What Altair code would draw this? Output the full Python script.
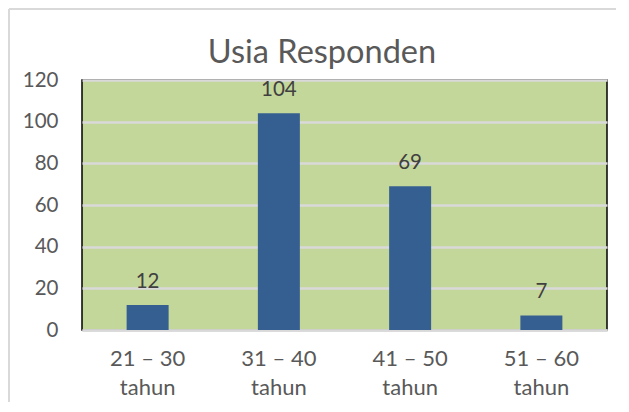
import altair as alt
import pandas as pd

categories = ["21 – 30\ntahun", "31 – 40\ntahun", "41 – 50\ntahun", "51 – 60\ntahun"]
values = [12, 104, 69, 7]
title_text = "Usia Responden"

df = pd.DataFrame({"cat": categories, "val": values})

FONT = "Lato"

base = alt.Chart(df).encode(
    x=alt.X("cat:N", sort=categories, title=None,
            scale=alt.Scale(paddingInner=0.68, paddingOuter=0.34),
            axis=alt.Axis(labelExpr="split(datum.label, '\\n')", labelAngle=0,
                          labelFontSize=22, labelColor="#595959", labelFont=FONT,
                          labelPadding=18, labelLineHeight=29, ticks=False,
                          domainColor="#d9d9d9", domainWidth=2.5, grid=False)),
    y=alt.Y("val:Q", title=None,
            scale=alt.Scale(domain=[0, 120], nice=False),
            axis=alt.Axis(values=[0, 20, 40, 60, 80, 100, 120], ticks=False, domain=False,
                          labelFontSize=20.5, labelColor="#595959", labelFont=FONT,
                          labelPadding=24, gridColor="#d9d9d9", gridWidth=2.5)),
)

bars = base.mark_bar(color="#365f91")
labels = base.mark_text(baseline="alphabetic", dy=-17, fontSize=20.5, color="#404040",
                        font=FONT).encode(text="val:Q")

title_df = pd.DataFrame({"t": [title_text]})
title = alt.Chart(title_df).mark_text(fontSize=32.5, font=FONT, color="#595959",
                                      baseline="alphabetic", align="center", clip=False).encode(
    text="t:N", x=alt.value(240), y=alt.value(-17))

border = alt.Chart(title_df).mark_rule(color="#d9d9d9", strokeWidth=2, clip=False).encode(
    x=alt.value(-73), x2=alt.value(534), y=alt.value(-71))
border2 = alt.Chart(title_df).mark_rule(color="#d9d9d9", strokeWidth=2, clip=False).encode(
    x=alt.value(-73), y=alt.value(-71), y2=alt.value(322))

chart = alt.layer(border, border2, bars, labels, title).properties(
    width=525, height=250,
    padding={"left": 0, "top": 0, "right": 0, "bottom": 0},
).configure(
    background="white"
).configure_view(
    fill="#c4d79b", stroke="#000000", strokeWidth=1.5
)

chart.save("out.html", embed_options={"renderer": "svg", "actions": False})
